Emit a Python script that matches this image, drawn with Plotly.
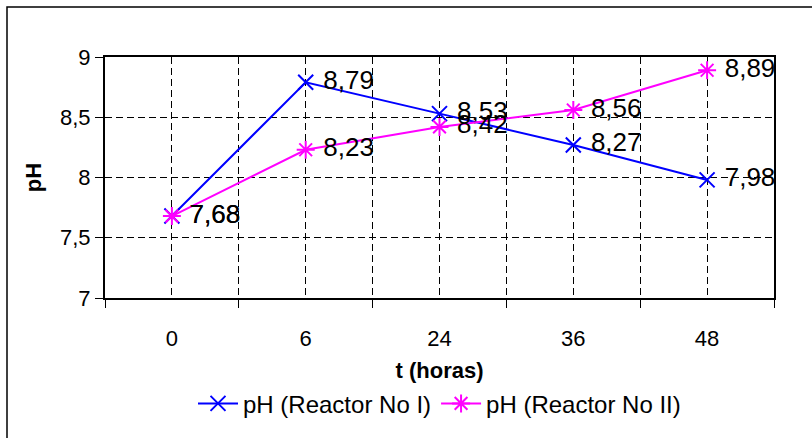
import plotly.graph_objects as go

# pH evolution in two reactors over time
horas = ["0", "6", "24", "36", "48"]
ph_reactor_1 = [7.68, 8.79, 8.53, 8.27, 7.98]
ph_reactor_2 = [7.68, 8.23, 8.42, 8.56, 8.89]

FONT = "Liberation Sans, Arial, sans-serif"
pos = list(range(len(horas)))
bounds = [i - 0.5 for i in range(len(horas) + 1)]
GRID_DASH = "7px,4px"

fig = go.Figure()
fig.add_trace(go.Scatter(
    x=pos, y=ph_reactor_1, name="pH (Reactor No I)",
    mode="lines+markers+text",
    line=dict(color="#0000FF", width=2),
    marker=dict(symbol="x-thin", size=15, line=dict(color="#0000FF", width=2)),
    texttemplate=" %{y:.2f}", textposition="middle right",
    textfont=dict(family=FONT, size=26, color="black"),
    cliponaxis=False,
))
fig.add_trace(go.Scatter(
    x=pos, y=ph_reactor_2, name="pH (Reactor No II)",
    mode="lines+markers+text",
    line=dict(color="#FF00FF", width=2),
    marker=dict(symbol="asterisk", size=15, line=dict(color="#FF00FF", width=2)),
    texttemplate=" %{y:.2f}", textposition="middle right",
    textfont=dict(family=FONT, size=26, color="black"),
    cliponaxis=False,
))

W, H = 812, 438
L, R, T, B = 105, 38, 57, 135
pw, ph = W - L - R, H - T - B

def px_x(v):
    return (v - L) / pw

def px_y(v):
    return (H - B - v) / ph

fig.update_layout(
    width=W, height=H,
    margin=dict(l=L, r=R, t=T, b=B),
    paper_bgcolor="white", plot_bgcolor="white",
    separators=",.",
    font=dict(family=FONT, size=22, color="black"),
    showlegend=True,
    legend=dict(orientation="h", x=0.5, xanchor="center", y=px_y(411), yanchor="middle",
                font=dict(family=FONT, size=24, color="black"),
                bgcolor="rgba(0,0,0,0)", itemwidth=40, tracegroupgap=0),
    xaxis=dict(
        range=[-0.5, len(horas) - 0.5],
        tickmode="array", tickvals=pos, ticktext=horas,
        ticks="", ticklabelstandoff=20,
        showgrid=True, gridcolor="black", griddash=GRID_DASH, gridwidth=1,
        minor=dict(tickmode="array", tickvals=bounds, ticks="outside", ticklen=8,
                   tickcolor="black", tickwidth=1,
                   showgrid=True, gridcolor="black", griddash=GRID_DASH, gridwidth=1),
        showline=True, linecolor="black", linewidth=2, mirror=True,
        zeroline=False, automargin=False,
        title=dict(text="<b>t (horas)</b>", standoff=12, font=dict(size=22)),
    ),
    yaxis=dict(
        range=[7, 9], dtick=0.5, tick0=7,
        ticks="outside", ticklen=8, tickcolor="black", tickwidth=1,
        showgrid=True, gridcolor="black", griddash=GRID_DASH, gridwidth=1,
        showline=True, linecolor="black", linewidth=2, mirror=True,
        zeroline=False, automargin=False,
        title=dict(text="<b>pH</b>", standoff=12, font=dict(size=22)),
    ),
    shapes=[dict(type="rect", xref="paper", yref="paper",
                 x0=px_x(7), x1=px_x(W + 20), y0=px_y(H + 20), y1=px_y(6),
                 line=dict(color="black", width=1.5), layer="below")],
)

fig.write_html("out.html")
